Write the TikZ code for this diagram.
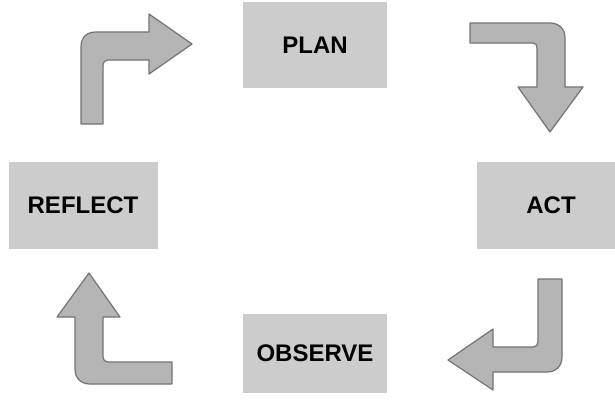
\documentclass[tikz,border=0pt]{standalone}
\usepackage{fontspec}
\setmainfont{Liberation Sans}
\begin{document}
\begin{tikzpicture}[x=1pt,y=-1pt,
  stagebox/.style={draw=none,fill=black!20,inner sep=0pt,
    font=\bfseries\fontsize{24}{28}\selectfont,text=black},
  blockarrow/.style={fill=black!29,draw=black!55,line width=1.2pt,line join=round}]
\useasboundingbox (0,0) rectangle (615,399);
\node[stagebox,minimum width=144pt,minimum height=86pt] (plan) at (315,45) {PLAN};
\node[stagebox,minimum width=148pt,minimum height=87pt] (act) at (551,205) {\raisebox{-2pt}{ACT}};
\node[stagebox,minimum width=144pt,minimum height=79pt] (observe) at (315,353) {\raisebox{-3pt}{OBSERVE}};
\node[stagebox,minimum width=149pt,minimum height=87pt] (reflect) at (83,205) {\raisebox{-2pt}{REFLECT}};
% top-left arrow (reflect -> plan)
\draw[blockarrow] (81,124) -- (81,47) .. controls (81,37) and (87,32) .. (96,32)
  -- (149,32) -- (149,14) -- (192,44) -- (149,74) -- (149,60) -- (108,60)
  .. controls (105,60) and (103,62) .. (103,65) -- (103,124) -- cycle;
% top-right arrow (plan -> act)
\draw[blockarrow] (470,23) -- (550,23) .. controls (559,23) and (565,29) .. (565,38)
  -- (565,87) -- (583,87) -- (550,132) -- (518,87) -- (537,87) -- (537,48)
  .. controls (537,45) and (536,43) .. (533,43) -- (470,43) -- cycle;
% bottom-right arrow (act -> observe)
\draw[blockarrow] (538,279) -- (562,279) -- (562,357) .. controls (562,366) and (556,372) .. (547,372)
  -- (493,372) -- (493,390) -- (448,360) -- (493,329) -- (493,347) -- (533,347)
  .. controls (536,347) and (538,345) .. (538,342) -- cycle;
% bottom-left arrow (observe -> reflect)
\draw[blockarrow] (89,273) -- (120,317) -- (103,317) -- (103,357)
  .. controls (103,360) and (105,362) .. (108,362) -- (172,362) -- (172,384) -- (90,384)
  .. controls (81,384) and (75,378) .. (75,369) -- (75,317) -- (57,317) -- cycle;
\end{tikzpicture}
\end{document}
